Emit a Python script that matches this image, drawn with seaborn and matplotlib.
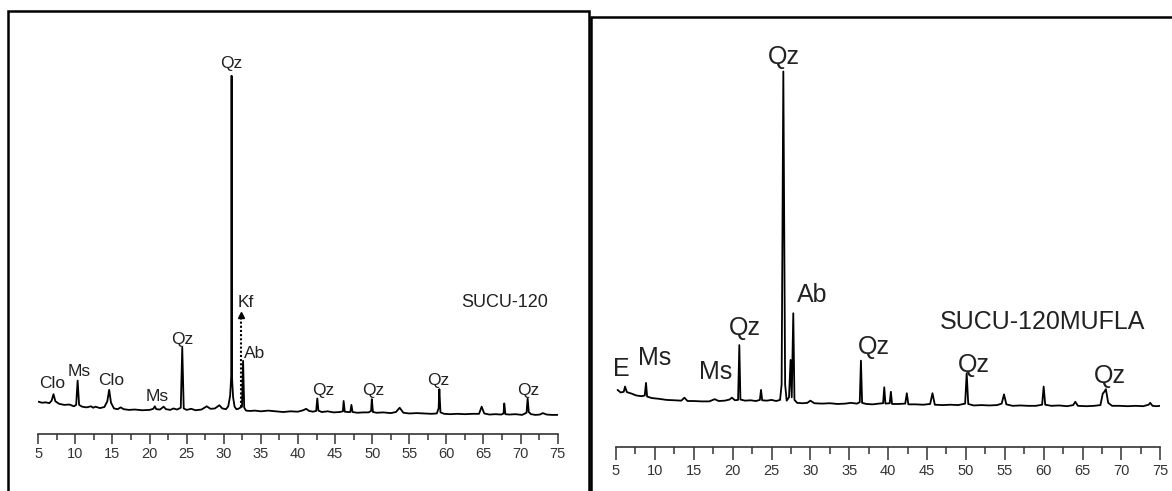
import numpy as np
import pandas as pd
import seaborn as sns
import matplotlib.pyplot as plt
from matplotlib.patches import Rectangle
from matplotlib.ticker import MultipleLocator

# difratograma SUCU-120 (2theta, contagens relativas)
left_2theta = [5.0, 5.5, 6.0, 6.5, 6.8, 7.05, 7.3, 7.8, 8.5, 9.2, 9.8, 10.1, 10.3, 10.5, 10.9,
               11.5, 12.1, 12.4, 12.7, 13.3, 13.9, 14.3, 14.55, 14.8, 15.2, 15.7, 16.1, 16.5, 17.2,
               18.0, 19.0, 20.0, 20.5, 20.7, 20.9, 21.4, 21.9, 22.2, 22.8, 23.2, 23.7, 24.2, 24.4,
               24.6, 25.0, 25.6, 26.2, 27.0, 27.7, 28.2, 28.8, 29.4, 29.8, 30.3, 30.6, 30.85, 31.0,
               31.05, 31.1, 31.25, 31.45, 31.7, 31.95, 32.2, 32.45, 32.6, 32.75, 33.0, 33.5, 34.2,
               35.0, 36.0, 37.0, 38.0, 39.0, 40.0, 40.7, 41.1, 41.5, 42.0, 42.45, 42.6, 42.75, 43.2,
               44.0, 44.8, 45.6, 46.05, 46.15, 46.3, 46.7, 47.05, 47.2, 47.35, 48.0, 48.8, 49.5,
               49.85, 49.95, 50.1, 50.6, 51.5, 52.5, 53.2, 53.7, 54.2, 55.0, 56.0, 57.0, 58.0, 58.7,
               58.95, 59.05, 59.2, 59.7, 60.5, 61.5, 62.5, 63.5, 64.4, 64.75, 65.1, 65.8, 66.6, 67.4,
               67.7, 67.8, 67.95, 68.5, 69.3, 70.2, 70.8, 70.95, 71.1, 71.4, 72.0, 72.6, 73.0, 73.5,
               74.2, 75.0]
left_counts = [8.9, 8.6, 8.7, 8.5, 9.2, 11.0, 9.0, 8.3, 8.0, 8.1, 7.6, 8.0, 14.8, 8.0, 7.5,
               7.3, 7.6, 7.2, 7.5, 7.1, 7.4, 9.0, 12.2, 8.6, 7.0, 6.8, 7.3, 6.8, 6.6,
               6.7, 6.5, 6.6, 6.9, 7.6, 6.8, 6.7, 7.5, 6.8, 6.6, 7.0, 6.7, 7.2, 24.0,
               7.0, 6.6, 6.9, 6.5, 6.7, 7.6, 6.9, 7.0, 7.9, 7.0, 6.8, 7.6, 10.5, 16.0,
               100.0, 16.0, 10.2, 7.5, 6.8, 6.9, 7.2, 7.5, 20.3, 7.2, 6.4, 6.3, 6.4,
               6.2, 6.4, 6.2, 6.0, 6.2, 6.1, 6.5, 6.9, 6.3, 6.1, 6.3, 9.8, 6.4, 6.0,
               6.2, 5.9, 6.0, 6.2, 9.1, 6.1, 6.0, 6.0, 8.0, 6.0, 5.8, 5.9, 5.9,
               6.3, 9.6, 6.0, 5.8, 5.9, 5.7, 6.0, 7.2, 5.8, 5.6, 5.7, 5.6, 5.5, 5.6,
               7.0, 12.4, 5.9, 5.5, 5.4, 5.5, 5.4, 5.5, 5.5, 7.5, 5.6, 5.3, 5.4, 5.3,
               5.6, 8.4, 5.4, 5.3, 5.4, 5.2, 5.8, 9.8, 6.0, 5.4, 5.2, 5.3, 5.7, 5.3,
               5.2, 5.2]

left_labels = ['Clo', 'Ms', 'Clo', 'Ms', 'Qz', 'Qz', 'Kf', 'Ab', 'Qz', 'Qz', 'Qz', 'Qz']
left_label_x = [6.9, 10.5, 14.8, 21.0, 24.4, 31.0, 32.9, 34.1, 43.4, 50.2, 58.9, 71.0]
left_label_y = [14.0, 17.3, 14.8, 10.3, 26.2, 103.3, 36.6, 22.5, 11.9, 11.9, 14.7, 12.0]
kf_2theta, kf_top = 32.3, 34.2

# difratograma SUCU-120MUFLA
right_2theta = [5.2, 5.6, 6.0, 6.16, 6.4, 7.0, 7.6, 8.3, 8.7, 8.86, 9.0, 9.6, 10.5, 11.5, 12.5,
                13.4, 13.8, 14.2, 15.0, 16.0, 17.0, 17.7, 18.2, 19.0, 19.6, 19.9, 20.3, 20.7, 20.86,
                21.0, 21.6, 22.3, 23.0, 23.5, 23.65, 23.8, 24.4, 25.0, 25.6, 26.1, 26.3, 26.52,
                26.75, 26.95, 27.25, 27.45, 27.6, 27.8, 27.95, 28.3, 29.0, 29.6, 30.0, 30.5, 31.5,
                32.5, 33.5, 34.5, 35.2, 36.0, 36.35, 36.5, 36.65, 37.2, 38.0, 38.8, 39.35, 39.5,
                39.65, 40.2, 40.35, 40.5, 41.3, 42.2, 42.4, 42.6, 43.5, 44.5, 45.4, 45.7, 46.0,
                47.0, 48.0, 49.0, 49.9, 50.1, 50.3, 51.0, 52.0, 53.0, 54.0, 54.6, 54.9, 55.2,
                56.0, 57.0, 58.0, 59.0, 59.8, 60.0, 60.2, 61.0, 62.0, 63.0, 63.8, 64.07, 64.4,
                65.5, 66.5, 67.3, 67.6, 67.8, 68.0, 68.3, 68.8, 69.8, 70.8, 71.8, 72.8, 73.5,
                73.7, 74.0, 74.5, 75.0]
right_counts = [15.5, 14.8, 15.0, 16.4, 14.9, 14.5, 14.0, 13.8, 14.0, 17.4, 13.7, 13.3, 13.1, 12.8, 12.7,
                12.6, 13.4, 12.5, 12.5, 12.4, 12.4, 13.0, 12.5, 12.6, 12.9, 13.4, 12.7, 12.8, 27.6,
                12.9, 12.6, 12.7, 12.5, 12.8, 15.5, 12.7, 12.6, 12.8, 12.5, 12.8, 17.0, 101.5,
                17.0, 12.6, 13.5, 23.6, 13.5, 36.2, 12.8, 12.0, 11.9, 12.0, 12.6, 11.9, 11.8,
                11.9, 11.7, 11.8, 12.0, 11.8, 12.2, 23.4, 12.0, 11.7, 11.6, 11.8, 11.9, 16.2,
                11.8, 11.9, 15.0, 11.7, 11.7, 11.8, 14.6, 11.6, 11.6, 11.5, 11.7, 14.6, 11.5,
                11.4, 11.5, 11.4, 11.8, 20.0, 11.7, 11.3, 11.4, 11.3, 11.4, 11.8, 14.3, 11.6,
                11.2, 11.3, 11.2, 11.2, 11.5, 16.4, 11.5, 11.2, 11.3, 11.1, 11.4, 12.3, 11.2,
                11.1, 11.2, 11.4, 14.5, 15.0, 15.7, 12.0, 11.2, 11.2, 11.1, 11.2, 11.1, 11.5,
                12.0, 11.2, 11.1, 11.2]

right_labels = ['E', 'Ms', 'Ms', 'Qz', 'Qz', 'Ab', 'Qz', 'Qz', 'Qz']
right_label_x = [5.73, 10.0, 17.8, 21.6, 26.6, 30.2, 38.1, 51.0, 68.5]
right_label_y = [21.1, 24.0, 20.4, 32.2, 105.4, 41.1, 27.2, 22.1, 19.3]

assert len(left_2theta) == len(left_counts)
assert len(right_2theta) == len(right_counts)

df_l = pd.DataFrame({'2theta': left_2theta, 'counts': left_counts})
df_r = pd.DataFrame({'2theta': right_2theta, 'counts': right_counts})

sns.set_style('white')
plt.rcParams['font.family'] = ['Liberation Sans', 'DejaVu Sans']

W, H = 1172, 491
fig = plt.figure(figsize=(W / 100, H / 100), dpi=100)

# molduras dos dois quadros
fig.add_artist(Rectangle((8 / W, -0.1), (588.5 - 8) / W, (H - 11) / H + 0.1,
                         transform=fig.transFigure, fill=False, lw=1.8, ec='black'))
fig.add_artist(Rectangle((590.5 / W, -0.1), 1.0, (H - 17) / H + 0.1,
                         transform=fig.transFigure, fill=False, lw=1.8, ec='black'))

ax_l = fig.add_axes([38.3 / W, (H - 433.5) / H, 519.4 / W, 393.5 / H])
ax_r = fig.add_axes([616 / W, (H - 447.3) / H, 544.3 / W, 407.3 / H])

sns.lineplot(data=df_l, x='2theta', y='counts', ax=ax_l, color='black', lw=1.3,
             estimator=None, sort=False)
sns.lineplot(data=df_r, x='2theta', y='counts', ax=ax_r, color='black', lw=1.3,
             estimator=None, sort=False)

for ax, tl, pad in [(ax_l, (7, 4), 3), (ax_r, (9, 5), 3)]:
    ax.set_xlim(5, 75)
    ax.set_ylim(0, 110)
    ax.patch.set_alpha(0)
    for s in ['top', 'left', 'right']:
        ax.spines[s].set_visible(False)
    ax.spines['bottom'].set_color('#333333')
    ax.spines['bottom'].set_linewidth(1.2)
    ax.set_yticks([])
    ax.set_xlabel('')
    ax.set_ylabel('')
    ax.xaxis.set_major_locator(MultipleLocator(5))
    ax.xaxis.set_minor_locator(MultipleLocator(2.5))
    ax.tick_params(axis='x', which='major', direction='out', length=tl[0], width=1.1,
                   color='#333333', labelsize=10.5, labelcolor='#333333', pad=pad, bottom=True)
    ax.tick_params(axis='x', which='minor', direction='out', length=tl[1], width=1.1,
                   color='#333333', bottom=True)

for t, x, y in zip(left_labels, left_label_x, left_label_y):
    ax_l.text(x, y, t, ha='center', va='center', fontsize=12.5, color='#222222')
for t, x, y in zip(right_labels, right_label_x, right_label_y):
    ax_r.text(x, y, t, ha='center', va='center', fontsize=18, color='#222222')

# Kf: linha pontilhada com seta
ax_l.vlines(kf_2theta, 7.5, kf_top - 1.5, colors='black', linestyles=(0, (1, 1)), lw=1.5)
ax_l.plot(kf_2theta, kf_top - 1.2, marker='^', ms=5, color='black')

ax_l.text(67.9, 36.6, 'SUCU-120', ha='center', va='center', fontsize=13, color='#222222')
ax_r.text(59.9, 33.9, 'SUCU-120MUFLA', ha='center', va='center', fontsize=18, color='#222222')

fig.savefig('out.png', dpi=100)
